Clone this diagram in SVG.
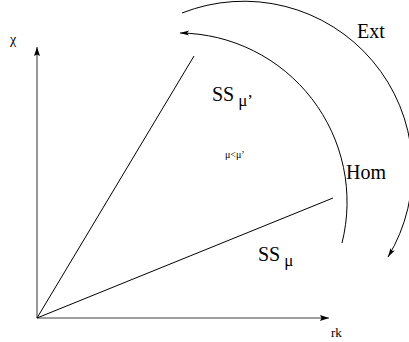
<svg xmlns="http://www.w3.org/2000/svg" width="409" height="342" viewBox="0 0 409 342">
<style>
.axis{stroke:#7f7f7f;stroke-width:1.6;fill:none}
.ln{stroke:#000;stroke-width:1;fill:none}
.t{font-family:"Liberation Serif","Times New Roman",serif;fill:#000}
</style>
<defs>
<marker id="ah" markerUnits="userSpaceOnUse" markerWidth="10" markerHeight="8" refX="9" refY="4" orient="auto">
<path d="M0,1.5 L9,4 L0,6.5 L2,4 Z" fill="#000"/>
</marker>
<marker id="axh" markerUnits="userSpaceOnUse" markerWidth="10" markerHeight="8" refX="9" refY="4" orient="auto">
<path d="M0,1 L9,4 L0,7 L1.5,4 Z" fill="#000"/>
</marker>
</defs>
<g id="axes">
<line class="axis" x1="37" y1="318" x2="37" y2="47" marker-end="url(#axh)"/>
<line class="axis" x1="37" y1="318" x2="329" y2="318" marker-end="url(#axh)"/>
</g>
<g id="connectors">
<line class="ln" x1="37" y1="318" x2="194" y2="56"/>
<line class="ln" x1="37" y1="318" x2="333" y2="198"/>
<path id="hom-arc" class="ln" d="M342,243 A169,169 0 0 0 180,33" marker-end="url(#ah)"/>
<path id="ext-arc" class="ln" d="M182,13 A168.5,168.5 0 0 1 388,257" marker-end="url(#ah)"/>
</g>
<g id="labels">
<text class="t" x="10" y="44" font-size="14">χ</text>
<text class="t" x="331" y="337" font-size="13">rk</text>
<text class="t" x="357" y="38" font-size="20">Ext</text>
<text class="t" x="346" y="179" font-size="20">Hom</text>
<text class="t" x="212" y="101" font-size="20">SS<tspan font-size="17" dx="4" dy="5">μ’</tspan></text>
<text class="t" x="225" y="158" font-size="10">μ&lt;μ’</text>
<text class="t" x="258" y="261" font-size="20">SS<tspan font-size="17" dx="4" dy="5">μ</tspan></text>
</g>
</svg>
